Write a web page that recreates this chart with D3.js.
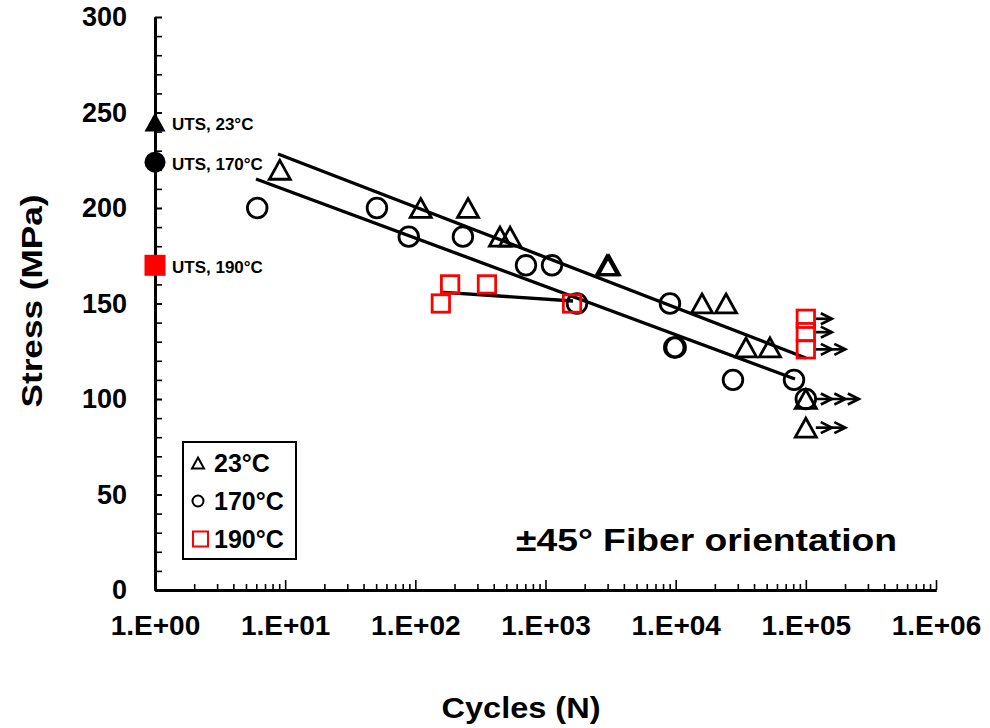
<!DOCTYPE html>
<html>
<head>
<meta charset="utf-8">
<script src="https://cdn.jsdelivr.net/npm/d3@7"></script>
<style>
  html, body { margin: 0; padding: 0; background: #fff; }
  svg { display: block; font-family: "Liberation Sans", Arial, sans-serif; font-weight: bold; }
</style>
</head>
<body>
<svg id="chart" width="990" height="728"></svg>
<script>
// ---- data ----
const tri23N = [9.1, 110, 254, 447, 534, 2967, 3076, 15930, 24370, 34700, 53000, 1e5, 1e5];
const tri23S = [220, 200, 200, 185, 185, 170, 170, 150, 150, 127, 127, 100, 85];
const cir170N = [6.1, 50.7, 89, 232, 708, 1122, 1745, 9040, 9750, 10000, 27560, 81100, 1e5];
const cir170S = [200, 200, 185, 185, 170, 170, 150, 150, 127, 127, 110, 110, 100];
const sq190N = [157, 185, 355, 1600, 1e5, 1e5, 1e5];
const sq190S = [150, 160, 160, 150, 142, 135, 126];

const fit23N = [8.81, 1e5], fit23S = [228.3, 121.5];
const fit170N = [5.97, 82600], fit170S = [215.2, 110.5];
const fit190N = [155, 1626], fit190S = [156, 151.3];

const utsLabels = ["UTS, 23°C", "UTS, 170°C", "UTS, 190°C"];
const utsS = [245, 224, 170];
const utsN = 1;

const runoutN = 1e5;
const runoutS = [142, 135, 126, 100, 85];
const runoutHeads = [1, 1, 2, 3, 2];

const xTickValues = [1, 10, 100, 1000, 1e4, 1e5, 1e6];
const xTickLabels = ["1.E+00", "1.E+01", "1.E+02", "1.E+03", "1.E+04", "1.E+05", "1.E+06"];
const yTickValues = [0, 50, 100, 150, 200, 250, 300];

const legendLabels = ["23°C", "170°C", "190°C"];
const xTitle = "Cycles (N)";
const yTitle = "Stress (MPa)";
const noteText = "±45° Fiber orientation";

// ---- chart ----
const svg = d3.select("#chart");
const x = d3.scaleLog().domain([1, 1e6]).range([155, 936]);
const y = d3.scaleLinear().domain([0, 300]).range([590, 17]);
const RED = "#ff0000";

// minor x ticks
const minorX = [];
for (let k = 0; k < 6; k++) for (let m = 2; m <= 9; m++) minorX.push(m * Math.pow(10, k));

const gxMinor = svg.append("g").attr("transform", "translate(0,590)")
  .call(d3.axisBottom(x).tickValues(minorX).tickSizeInner(-6).tickSizeOuter(0).tickFormat(""));
const gx = svg.append("g").attr("transform", "translate(0,590)")
  .call(d3.axisBottom(x).tickValues(xTickValues).tickSizeInner(-10).tickSizeOuter(0).tickPadding(25)
    .tickFormat((d, i) => xTickLabels[i]));
const gyMinor = svg.append("g").attr("transform", "translate(155,0)")
  .call(d3.axisLeft(y).tickValues(d3.range(0, 301, 10)).tickSizeInner(-7).tickSizeOuter(0).tickFormat(""));
const gy = svg.append("g").attr("transform", "translate(155,0)")
  .call(d3.axisLeft(y).tickValues(yTickValues).tickSizeInner(-7).tickSizeOuter(0).tickPadding(28));

[gxMinor, gx, gyMinor, gy].forEach(g => {
  g.selectAll(".domain").attr("stroke", "#000").attr("stroke-width", 3);
  g.selectAll(".tick line").attr("stroke", "#000").attr("stroke-width", 1.6);
  g.selectAll("text").attr("fill", "#000").attr("font-family", "Liberation Sans, Arial, sans-serif")
    .attr("font-weight", "bold");
});
gx.selectAll("text").attr("font-size", 28);
gy.selectAll("text").attr("font-size", 27);

// axis titles
svg.append("text").attr("x", 521).attr("y", 718).attr("text-anchor", "middle")
  .attr("font-size", 29).attr("textLength", 159).attr("lengthAdjust", "spacingAndGlyphs").text(xTitle);
svg.append("text").attr("transform", "translate(42,301) rotate(-90)").attr("text-anchor", "middle")
  .attr("font-size", 30).attr("textLength", 213).attr("lengthAdjust", "spacingAndGlyphs").text(yTitle);

// marker helpers
function triPath(s) { // s = width
  const h = s * 0.9;
  return `M0,${-h/2}L${s/2},${h/2}L${-s/2},${h/2}Z`;
}

// fit lines
const line = d3.line().x(d => x(d[0])).y(d => y(d[1]));
[[fit23N, fit23S], [fit170N, fit170S], [fit190N, fit190S]].forEach(([ns, ss]) => {
  svg.append("path").attr("d", line(ns.map((n, i) => [n, ss[i]])))
    .attr("fill", "none").attr("stroke", "#000").attr("stroke-width", 3.3);
});

// runout arrows
const arrowG = svg.append("g").attr("stroke", "#000").attr("stroke-width", 2.7).attr("fill", "none");
runoutS.forEach((s, i) => {
  const x0 = x(runoutN) + 10, yy = y(s);
  const tips = d3.range(runoutHeads[i]).map(k => x(runoutN) + 26 + 13.5 * k);
  arrowG.append("line").attr("x1", x0).attr("x2", tips[tips.length - 1]).attr("y1", yy).attr("y2", yy);
  tips.forEach(t => {
    arrowG.append("path").attr("d", `M${t - 11},${yy - 5.5}L${t},${yy}L${t - 11},${yy + 5.5}`);
  });
});

// data markers
svg.append("g").selectAll("path").data(tri23N).join("path")
  .attr("d", triPath(21)).attr("transform", (d, i) => `translate(${x(d)},${y(tri23S[i])})`)
  .attr("fill", "none").attr("stroke", "#000").attr("stroke-width", 2.8);
svg.append("g").selectAll("circle").data(cir170N).join("circle")
  .attr("cx", d => x(d)).attr("cy", (d, i) => y(cir170S[i])).attr("r", 9.8)
  .attr("fill", "none").attr("stroke", "#000").attr("stroke-width", 2.8);
svg.append("g").selectAll("rect").data(sq190N).join("rect")
  .attr("x", d => x(d) - 8.7).attr("y", (d, i) => y(sq190S[i]) - 8.7).attr("width", 17.4).attr("height", 17.4)
  .attr("fill", "none").attr("stroke", RED).attr("stroke-width", 2.8);

// UTS markers
svg.append("path").attr("d", triPath(21)).attr("transform", `translate(${x(utsN)},${y(utsS[0])})`).attr("fill", "#000");
svg.append("circle").attr("cx", x(utsN)).attr("cy", y(utsS[1])).attr("r", 10.5).attr("fill", "#000");
svg.append("rect").attr("x", x(utsN) - 10.5).attr("y", y(utsS[2]) - 10.5).attr("width", 21).attr("height", 21).attr("fill", RED);
utsLabels.forEach((t, i) => {
  svg.append("text").attr("x", x(utsN) + 17).attr("y", y(utsS[i]) + 7.5).attr("font-size", 17).text(t);
});

// legend
const lg = svg.append("g");
lg.append("rect").attr("x", 183).attr("y", 442).attr("width", 113).attr("height", 117)
  .attr("fill", "#fff").attr("stroke", "#000").attr("stroke-width", 2);
const rowsY = [463, 501, 539];
lg.append("path").attr("d", triPath(12)).attr("transform", `translate(198,${rowsY[0]})`)
  .attr("fill", "none").attr("stroke", "#000").attr("stroke-width", 2);
lg.append("circle").attr("cx", 198).attr("cy", rowsY[1]).attr("r", 5.5)
  .attr("fill", "none").attr("stroke", "#000").attr("stroke-width", 2);
lg.append("rect").attr("x", 193).attr("y", rowsY[2] - 7.5).attr("width", 15).attr("height", 15)
  .attr("fill", "none").attr("stroke", RED).attr("stroke-width", 2);
legendLabels.forEach((t, i) => {
  lg.append("text").attr("x", 214).attr("y", rowsY[i] + 9).attr("font-size", 25).text(t);
});

// note
svg.append("text").attr("x", 516).attr("y", 551).attr("font-size", 32)
  .attr("textLength", 381).attr("lengthAdjust", "spacingAndGlyphs").text(noteText);
</script>
</body>
</html>
